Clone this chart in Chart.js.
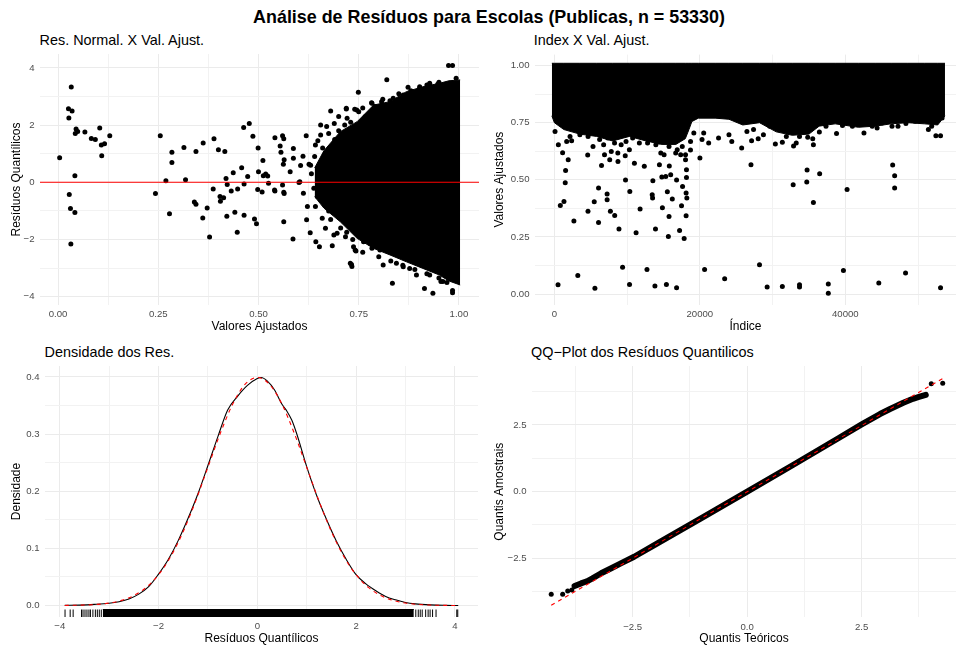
<!DOCTYPE html>
<html lang="pt">
<head>
<meta charset="utf-8">
<title>Análise de Resíduos</title>
<script src="https://cdn.jsdelivr.net/npm/chart.js@4.4.1/dist/chart.umd.min.js"></script>
<style>
    body { margin: 0; width: 960px; height: 648px; background: #fff; overflow: hidden; position: relative;
           font-family: "Liberation Sans", Arial, sans-serif; }
    canvas { position: absolute; }
    .ttl { position: absolute; white-space: nowrap; color: #000; line-height: 1; }
    #main { left: 9px; width: 960px; text-align: center; top: 9px; font-weight: bold; font-size: 17.9px; }
    .sub { font-size: 14.4px; }
</style>
</head>
<body>
<div id="main" class="ttl">Análise de Resíduos para Escolas (Publicas, n = 53330)</div>
<div class="ttl sub" style="left:39.6px; top:32.8px;">Res. Normal. X Val. Ajust.</div>
<div class="ttl sub" style="left:533.7px; top:32.8px;">Index X Val. Ajust.</div>
<div class="ttl sub" style="left:44.6px; top:345px;">Densidade dos Res.</div>
<div class="ttl sub" style="left:531px; top:345px;">QQ−Plot dos Resíduos Quantilicos</div>

<canvas id="resFitChart" width="483" height="292" style="left:0; top:48px;"></canvas>
<canvas id="indexChart" width="480" height="292" style="left:480px; top:48px;"></canvas>
<canvas id="densityChart" width="483" height="288" style="left:0; top:360px;"></canvas>
<canvas id="qqChart" width="480" height="288" style="left:480px; top:360px;"></canvas>

<script>
// ---- data ----

// Panel 1: fitted value vs quantile residual (visible isolated points)
const resFitPoints = [
    [0.004, 0.86], [0.033, 3.33], [0.026, 2.57], [0.035, 2.49], [0.027, 2.25], [0.045, 1.86], [0.043, 1.71],
    [0.049, 1.78], [0.067, 1.76], [0.083, 1.53], [0.093, 1.50], [0.104, 1.90], [0.108, 1.30], [0.116, 1.35],
    [0.129, 1.63], [0.109, 0.93], [0.042, 0.23], [0.028, -0.43], [0.031, -0.92], [0.042, -1.06], [0.032, -2.16],
    [0.255, 1.63], [0.284, 1.05], [0.284, 0.69], [0.269, 0.05], [0.243, -0.39], [0.278, -1.10], [0.314, 1.22],
    [0.318, 0.09], [0.344, 1.08], [0.362, 1.37], [0.340, -0.69], [0.344, -0.77], [0.361, -1.25], [0.372, -0.90],
    [0.378, -1.91], [0.389, 1.52], [0.387, -0.23], [0.400, 1.14], [0.416, 1.08], [0.404, -0.50], [0.413, -0.54],
    [0.405, -0.66], [0.419, 0.13], [0.422, -0.08], [0.421, -1.19], [0.432, -0.30], [0.437, 0.33], [0.441, -1.05],
    [0.447, -1.75], [0.448, -0.23], [0.458, 0.51], [0.464, -0.06], [0.463, 1.92], [0.477, 2.06], [0.464, -1.15],
    [0.473, 0.20], [0.486, 1.61], [0.490, -1.28], [0.495, -1.45], [0.499, 1.20], [0.500, 0.37], [0.498, -0.25],
    [0.511, 0.76], [0.509, -0.34], [0.512, 0.23], [0.518, 0.29], [0.523, 0.22], [0.525, -0.03], [0.540, -0.27],
    [0.541, 1.56], [0.560, 1.63], [0.563, 1.52], [0.554, 1.27], [0.556, 1.05], [0.587, 1.18], [0.564, 0.79],
    [0.562, 0.63], [0.579, 0.37], [0.587, 0.84], [0.611, 0.91], [0.619, 1.63], [0.605, 0.59], [0.603, 0.02],
    [0.626, 0.63], [0.541, -0.30], [0.563, -0.35], [0.563, -1.38], [0.586, -1.98], [0.622, -0.85], [0.620, -1.31],
    [0.629, -1.76], [0.643, -2.08], [0.652, -2.25], [0.684, -2.22], [0.732, -2.87], [0.733, -2.94], [0.743, -2.40],
    [0.749, 3.15], [0.820, 3.59], [0.719, 2.59], [0.680, 2.49], [0.750, 2.47], [0.834, -3.53], [0.914, -3.71],
    [0.935, -3.88], [0.984, -3.86], [0.984, -3.78], [0.974, 4.08], [0.984, 4.08], [0.993, 3.64], [0.894, -3.24],
    [0.955, -3.47], [0.560, -0.09], [0.564, -0.39], [0.601, -0.01], [0.612, -0.38], [0.630, 0.60],
    [0.655, 2.00], [0.689, 2.06], [0.721, 2.24], [0.766, 2.29], [0.783, 2.76], [0.807, 2.82], [0.836, 2.94],
    [0.861, 3.05], [0.873, 3.32], [0.902, 3.29], [0.927, 3.43], [0.947, 3.43], [0.968, 3.34], [0.642, 1.30],
    [0.655, 1.65], [0.675, 1.71], [0.688, 1.36], [0.696, 1.07], [0.663, 0.60], [0.638, -0.21], [0.647, -0.50],
    [0.642, -0.85], [0.659, -1.26], [0.667, -1.61], [0.696, -1.78], [0.717, -1.90], [0.688, -1.84], [0.737, -2.25],
    [0.762, -2.08], [0.783, -2.31], [0.811, -2.89], [0.844, -2.83], [0.877, -3.01], [0.927, -3.24], [0.972, -3.24],
    [0.719, 2.56], [0.745, 2.53], [0.782, 2.78], [0.828, 2.85], [0.873, 3.05], [0.902, 3.34], [0.927, 3.46],
    [0.968, 3.40], [0.729, -2.83], [0.741, -2.37], [0.778, -2.13], [0.803, -2.37], [0.861, -2.95], [0.960, -3.47],
    [0.660, 1.20], [0.670, 0.90], [0.650, 0.35], [0.655, -0.20], [0.660, -0.60], [0.675, -1.00], [0.680, -1.30],
    [0.690, 1.50], [0.700, 1.80], [0.705, -1.60], [0.715, 2.00], [0.720, -1.75], [0.730, 2.10], [0.735, -2.00],
    [0.640, 0.90], [0.632, 0.30], [0.648, 1.45], [0.670, 1.95], [0.700, 2.30], [0.740, 2.55], [0.760, 2.60],
    [0.790, 2.65], [0.810, 2.90], [0.850, 3.10], [0.880, 3.20], [0.920, 3.40], [0.950, 3.50], [0.760, -2.45],
    [0.800, -2.60], [0.830, -2.75], [0.860, -2.90], [0.890, -3.05], [0.920, -3.20], [0.950, -3.35], [0.970, -3.50]
];
// Panel 1: outline of the solid mass of overlapping points
const resFitMassX = [0.64, 0.663, 0.704, 0.746, 0.787, 0.828, 0.869, 0.910, 0.951, 0.975, 1.003];
const resFitMassTop = [0.50, 1.10, 1.77, 2.12, 2.70, 2.82, 3.17, 3.34, 3.46, 3.55, 3.58];
const resFitMassBottom = [-0.50, -0.90, -1.38, -1.96, -2.31, -2.54, -2.78, -3.01, -3.24, -3.45, -3.59];

// Panel 2: observation index vs fitted value (isolated points)
const indexPoints = [
    [500, 0.041], [3220, 0.081], [5570, 0.026], [9375, 0.117], [10330, 0.042], [12730, 0.108], [13820, 0.035],
    [15400, 0.042], [16800, 0.028], [20650, 0.108], [23410, 0.067], [2680, 0.32], [815, 0.388], [1315, 0.405],
    [1490, 0.487], [1540, 0.541], [1900, 0.588], [1130, 0.619], [4620, 0.363], [5480, 0.404], [6070, 0.313],
    [6070, 0.464], [7250, 0.438], [7250, 0.413], [7700, 0.363], [8290, 0.344], [8880, 0.285], [9780, 0.499],
    [10370, 0.449], [11230, 0.268], [11780, 0.372], [13450, 0.435], [13500, 0.42], [13540, 0.496], [13900, 0.285],
    [14850, 0.378], [15530, 0.448], [15760, 0.34], [16210, 0.416], [15670, 0.252], [17210, 0.278], [17840, 0.243],
    [17480, 0.387], [18110, 0.343], [18210, 0.42], [18110, 0.442], [17620, 0.471], [16800, 0.499], [15990, 0.522],
    [15310, 0.515], [14770, 0.512], [14440, 0.566], [15800, 0.56], [18160, 0.544], [18160, 0.51], [18030, 0.588],
    [12360, 0.559], [11000, 0.573], [9740, 0.605], [8740, 0.58], [7610, 0.588], [6480, 0.563], [6890, 0.61],
    [4580, 0.609], [20010, 0.595], [18710, 0.63], [27030, 0.566], [32830, 0.479], [34740, 0.543], [34700, 0.49],
    [36470, 0.527], [35610, 0.401], [40240, 0.458], [46510, 0.565], [46780, 0.518], [46780, 0.464], [28200, 0.128],
    [29250, 0.031], [31340, 0.033], [33700, 0.041], [33700, 0.031], [37660, 0.044], [37660, 0.004], [39740, 0.103],
    [44600, 0.049], [48280, 0.092], [53090, 0.028],
    [26470, 0.712], [27110, 0.671], [28020, 0.68], [30380, 0.657], [31340, 0.664], [32880, 0.648], [33700, 0.69],
    [34830, 0.686], [35610, 0.654], [35520, 0.68], [36430, 0.709], [38790, 0.703], [39610, 0.738], [42560, 0.705],
    [44370, 0.727], [46420, 0.734], [47240, 0.734], [48330, 0.746], [51420, 0.72], [52450, 0.693], [53090, 0.693],
    [53300, 0.771], [90, 0.712], [545, 0.654], [1690, 0.668], [2370, 0.671], [3500, 0.697], [4630, 0.69],
    [5310, 0.646], [6770, 0.654], [7820, 0.624], [8720, 0.617], [9180, 0.654], [10310, 0.632], [11230, 0.697],
    [11680, 0.661], [12810, 0.661], [13950, 0.654], [14630, 0.617], [15080, 0.61], [16680, 0.617], [17360, 0.61],
    [17580, 0.646], [18720, 0.668], [19170, 0.705], [20300, 0.676], [20530, 0.705], [21210, 0.661], [22570, 0.683],
    [24390, 0.668], [25750, 0.639], [24000, 0.697],
    [2150, 0.69], [3950, 0.749], [4860, 0.705], [6220, 0.676], [7350, 0.683], [8270, 0.661], [9850, 0.668],
    [10760, 0.683], [12120, 0.69], [13260, 0.676], [14390, 0.666], [15760, 0.646], [16890, 0.632], [18030, 0.61],
    [15760, 0.683], [27380, 0.72], [28740, 0.697], [29620, 0.734], [31890, 0.69], [33250, 0.661], [37340, 0.734],
    [40970, 0.734], [43700, 0.734], [45060, 0.749], [49590, 0.756], [51870, 0.734]
];
// Panel 2: outline of the solid band of points
const indexMassX = [-350, 0, 1300, 3500, 5800, 8000, 10300, 12600, 14800, 16700, 18000, 18500, 18900, 19800,
    22100, 24000, 25900, 28200, 30500, 32700, 35000, 36400, 38600, 41800, 44100, 46300, 48600, 50900, 52700, 53700];
const indexMassTop = [1.01, 1.01, 1.01, 1.01, 1.01, 1.01, 1.01, 1.01, 1.01, 1.01, 1.01, 1.01, 1.01, 1.01,
    1.01, 1.01, 1.01, 1.01, 1.01, 1.01, 1.01, 1.01, 1.01, 1.01, 1.01, 1.01, 1.01, 1.01, 1.01, 1.01];
const indexMassBottom = [0.78, 0.75, 0.72, 0.70, 0.69, 0.67, 0.69, 0.67, 0.655, 0.655, 0.68, 0.72, 0.755, 0.77,
    0.77, 0.765, 0.74, 0.75, 0.71, 0.695, 0.70, 0.735, 0.745, 0.73, 0.735, 0.745, 0.75, 0.745, 0.74, 0.78];

// Panel 3: kernel density of the residuals and the N(0,1) reference
const densityX = [-3.9, -3.6, -3.3, -3.0, -2.8, -2.6, -2.4, -2.2, -2.0, -1.8, -1.6, -1.4, -1.2, -1.0, -0.8, -0.6,
    -0.4, -0.2, 0, 0.08, 0.2, 0.35, 0.5, 0.6, 0.7, 0.8, 1.0, 1.2, 1.4, 1.6, 1.8, 2.0, 2.2, 2.4, 2.6, 2.8, 3.0, 3.2,
    3.5, 3.8, 4.07];
const densityY = [0.0003, 0.0008, 0.002, 0.004, 0.0068, 0.0115, 0.020, 0.033, 0.055, 0.081, 0.114, 0.153, 0.196,
    0.245, 0.295, 0.342, 0.366, 0.385, 0.397, 0.399, 0.393, 0.377, 0.352, 0.340, 0.324, 0.300, 0.243, 0.193, 0.151,
    0.113, 0.081, 0.054, 0.038, 0.026, 0.016, 0.010, 0.0055, 0.003, 0.0012, 0.0004, 0.0001];
const normalX = [-3.9, -3.75, -3.5, -3.25, -3.0, -2.75, -2.5, -2.25, -2.0, -1.75, -1.5, -1.25, -1.0, -0.75, -0.5,
    -0.25, 0, 0.25, 0.5, 0.75, 1.0, 1.25, 1.5, 1.75, 2.0, 2.25, 2.5, 2.75, 3.0, 3.25, 3.5, 3.75, 4.07];
const normalY = [0.0002, 0.0004, 0.0009, 0.002, 0.0044, 0.0091, 0.0175, 0.0317, 0.054, 0.0863, 0.1295, 0.1826,
    0.242, 0.3011, 0.3521, 0.3867, 0.3989, 0.3867, 0.3521, 0.3011, 0.242, 0.1826, 0.1295, 0.0863, 0.054, 0.0317,
    0.0175, 0.0091, 0.0044, 0.002, 0.0009, 0.0004, 0.0001];
// rug: single marks in the tails, and the solid stretch in the middle
const rugTicks = [-3.894, -3.79, -3.73, -3.56, -3.53, -3.49, -3.45, -3.41, -3.38, -3.33, -3.28, -3.24, -3.20,
    -3.16, 3.21, 3.26, 3.30, 3.34, 3.41, 3.46, 3.50, 3.55, 3.62, 4.04, 4.06];
const rugSolid = [-3.13, 3.17];

// Panel 4: QQ plot
const qqBandX = [-3.77, -3.63, -3.50, -3.38, -3.19, -2.98, -2.75, -2.47, -2.0, -1.0, 0, 1.0, 2.0, 2.5, 2.9, 3.12,
    3.41, 3.62, 3.75, 3.90];
const qqBandY = [-3.54, -3.44, -3.36, -3.25, -3.06, -2.88, -2.68, -2.44, -1.98, -0.99, 0.0, 1.0, 2.01, 2.52, 2.91,
    3.10, 3.33, 3.48, 3.55, 3.63];
const qqOutliers = [[-4.28, -3.85], [-4.03, -3.85], [-3.92, -3.72], [-3.83, -3.69], [4.02, 4.04], [4.27, 4.06]];
const qqLineX = [-4.28, 4.28];
const qqLineY = [-4.26, 4.25];

// axis breaks and labels
const fitTicks = [0, 0.25, 0.5, 0.75, 1], fitLabels = ['0.00', '0.25', '0.50', '0.75', '1.00'];
const fitMinor = [0.125, 0.375, 0.625, 0.875];
const resTicks = [-4, -2, 0, 2, 4], resLabels = ['−4', '−2', '0', '2', '4'], resMinor = [-3, -1, 1, 3];
const idxTicks = [0, 20000, 40000], idxLabels = ['0', '20000', '40000'], idxMinor = [10000, 30000, 50000];
const densTicks = [0, 0.1, 0.2, 0.3, 0.4], densLabels = ['0.0', '0.1', '0.2', '0.3', '0.4'];
const densMinor = [0.05, 0.15, 0.25, 0.35];
const qqTicks = [-2.5, 0, 2.5], qqLabels = ['−2.5', '0.0', '2.5'], qqMinor = [-3.75, -1.25, 1.25, 3.75];

// ---- drawing ----
const FONT = '"Liberation Sans", Arial, sans-serif';
Chart.defaults.font.family = FONT;
Chart.defaults.animation = false;

const xy = (xs, ys) => xs.map((x, i) => ({ x: x, y: ys[i] }));
const pts = arr => arr.map(p => ({ x: p[0], y: p[1] }));

function axis(min, max, major, labels, minor, title, size, titlePad, horizontal) {
    const all = major.concat(minor).sort((a, b) => a - b);
    const majorIndex = v => major.findIndex(m => Math.abs(m - v) < 1e-9);
    return {
        type: 'linear',
        min: min,
        max: max,
        afterBuildTicks: s => { s.ticks = all.map(v => ({ value: v })); },
        afterFit: s => {
            // fixed axis band, and no extra room for labels at the ends
            if (horizontal) s.height = size; else s.width = size;
            s.paddingTop = 0; s.paddingBottom = 0; s.paddingLeft = 0; s.paddingRight = 0;
        },
        grid: {
            color: c => majorIndex(c.tick.value) >= 0 ? '#EBEBEB' : '#F2F2F2',
            lineWidth: 1,
            drawTicks: false
        },
        border: { display: false },
        ticks: {
            autoSkip: false,
            maxRotation: 0,
            padding: horizontal ? 4 : 5.5,
            color: '#4D4D4D',
            font: { size: 9.6, family: FONT },
            callback: v => { const i = majorIndex(v); return i < 0 ? '' : labels[i]; }
        },
        title: {
            display: true,
            text: title,
            color: '#000',
            font: { size: 12, family: FONT },
            padding: horizontal ? { top: 0, bottom: titlePad } : { top: titlePad, bottom: 0 }
        }
    };
}

function baseOptions(padTop, x, y) {
    return {
        responsive: false,
        animation: false,
        layout: { padding: { top: padTop, left: 0, right: 0, bottom: 0 } },
        plugins: { legend: { display: false }, tooltip: { enabled: false } },
        scales: { x: x, y: y }
    };
}

function massDatasets(xs, top, bottom) {
    return [{
        data: xy(xs, top), showLine: true, pointRadius: 0, borderColor: '#000', borderWidth: 1,
        backgroundColor: '#000', fill: '+1', order: 2
    }, {
        data: xy(xs, bottom), showLine: true, pointRadius: 0, borderColor: '#000', borderWidth: 1,
        fill: false, order: 3
    }];
}

const dotStyle = { pointRadius: 2.5, pointBackgroundColor: '#000', pointBorderWidth: 0, showLine: false };

// Res. Normal. X Val. Ajust.
new Chart(document.getElementById('resFitChart'), {
    type: 'scatter',
    data: {
        datasets: [
            { data: [{ x: -0.045, y: 0 }, { x: 1.05, y: 0 }], showLine: true, pointRadius: 0,
              borderColor: '#FF0000', borderWidth: 1.1, order: 0 },
            Object.assign({ data: pts(resFitPoints), order: 1 }, dotStyle)
        ].concat(massDatasets(resFitMassX, resFitMassTop, resFitMassBottom))
    },
    options: baseOptions(6,
        axis(-0.045, 1.05, fitTicks, fitLabels, fitMinor, 'Valores Ajustados', 35, 5.8, true),
        axis(-4.29, 4.486, resTicks, resLabels, resMinor, 'Resíduos Quantílicos', 40, 9.5, false))
});

// Index X Val. Ajust.
new Chart(document.getElementById('indexChart'), {
    type: 'scatter',
    data: {
        datasets: [
            Object.assign({ data: pts(indexPoints), order: 1 }, dotStyle)
        ].concat(massDatasets(indexMassX, indexMassTop, indexMassBottom))
    },
    options: baseOptions(6.6,
        axis(-2666, 55216, idxTicks, idxLabels, idxMinor, 'Índice', 35.4, 5.8, true),
        axis(-0.046, 1.048, fitTicks, fitLabels, fitMinor, 'Valores Ajustados', 55, 12.8, false))
});

// Densidade dos Res.
const rugTop = -0.02 + 7.5 / 571.8;
const rugMid = -0.02 + 3.75 / 571.8;
new Chart(document.getElementById('densityChart'), {
    type: 'scatter',
    data: {
        datasets: [
            { data: xy(normalX, normalY), showLine: true, pointRadius: 0, borderColor: '#FF0000',
              borderWidth: 1.1, borderDash: [4, 4], cubicInterpolationMode: 'monotone', order: 0 },
            { data: xy(densityX, densityY), showLine: true, pointRadius: 0, borderColor: '#000',
              borderWidth: 1.1, cubicInterpolationMode: 'monotone', order: 1 },
            { data: rugTicks.map(v => ({ x: v, y: rugMid })), showLine: false, pointStyle: 'line',
              rotation: 90, pointRadius: 3.75, pointBorderColor: '#000', pointBorderWidth: 1, order: 2 },
            { data: rugSolid.map(v => ({ x: v, y: rugTop })), showLine: true, pointRadius: 0,
              borderColor: '#000', borderWidth: 1, backgroundColor: '#000', fill: 'start', order: 3 }
        ]
    },
    options: baseOptions(6,
        axis(-4.30, 4.47, resTicks, resLabels, resMinor, 'Resíduos Quantílicos', 31, 1.8, true),
        axis(-0.02, 0.419, densTicks, densLabels, densMinor, 'Densidade', 45, 9.5, false))
});

// QQ-Plot dos Resíduos Quantilicos
new Chart(document.getElementById('qqChart'), {
    type: 'scatter',
    data: {
        datasets: [
            { data: xy(qqLineX, qqLineY), showLine: true, pointRadius: 0, borderColor: '#FF0000',
              borderWidth: 1.1, borderDash: [4, 4], order: 0 },
            Object.assign({ data: pts(qqOutliers), order: 1 }, dotStyle),
            { data: xy(qqBandX, qqBandY), showLine: true, pointRadius: 0, borderColor: '#000',
              borderWidth: 6, borderCapStyle: 'round', borderJoinStyle: 'round', order: 2 }
        ]
    },
    options: baseOptions(6,
        axis(-4.70, 4.56, qqTicks, qqLabels, qqMinor, 'Quantis Teóricos', 30.7, 1.8, true),
        axis(-4.71, 4.71, qqTicks, qqLabels, qqMinor, 'Quantis Amostrais', 52, 12.8, false))
});
</script>
</body>
</html>
